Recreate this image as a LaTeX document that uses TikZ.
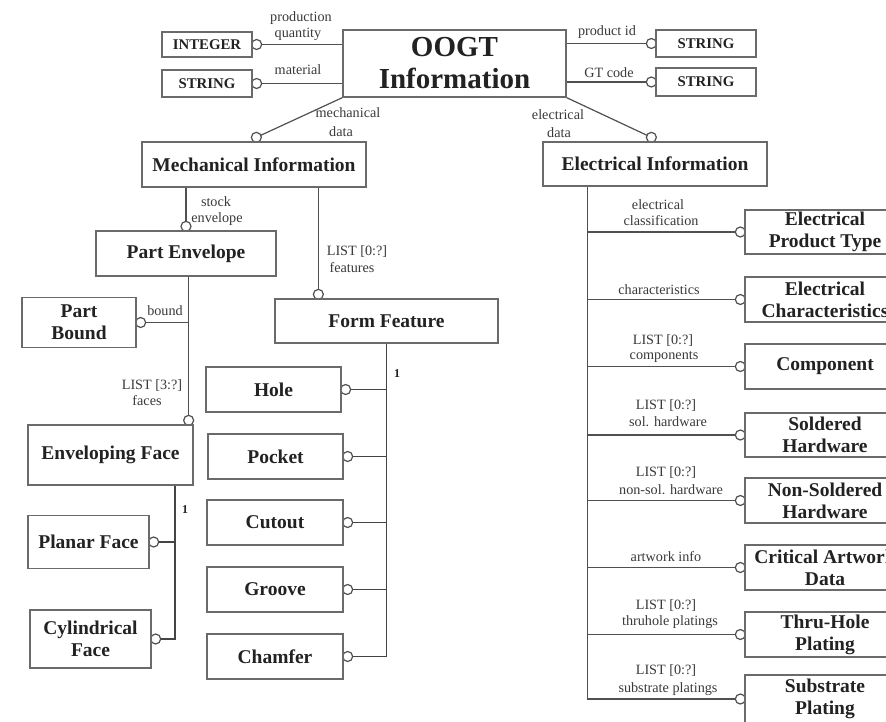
\documentclass[tikz,border=0pt]{standalone}
\usepackage{fontspec}
\setmainfont{Liberation Serif}
\usetikzlibrary{calc,backgrounds}
\definecolor{edgecol}{HTML}{6A6A6A}
\definecolor{wirecol}{HTML}{505050}
\definecolor{textcol}{HTML}{222222}
\definecolor{labelcol}{HTML}{3A3A3A}
\tikzset{
  entity/.style={draw=edgecol, line width=1.3pt, fill=white, text=textcol, align=center,
    inner sep=0pt, font=\bfseries\fontsize{19.5}{22}\selectfont},
  smallentity/.style={entity, font=\bfseries\fontsize{14.8}{17}\selectfont},
  rolelabel/.style={text=labelcol, font=\fontsize{14.2}{16}\selectfont, inner sep=0pt, anchor=mid},
  cardlabel/.style={text=textcol, font=\bfseries\fontsize{12}{14}\selectfont, inner sep=0pt, anchor=mid},
  wire/.style={draw=wirecol, line width=1.2pt},
  trunk/.style={draw=wirecol!85!black, line width=1.8pt},
  ring/.style={draw=wirecol, line width=1.2pt, fill=white},
}
\begin{document}
\begin{tikzpicture}[x=1pt, y=-1pt]
\useasboundingbox (0,0) rectangle (886,722);

% ---- top level entity and its simple attributes
\node[entity, minimum width=223, minimum height=67,
      font=\bfseries\fontsize{29}{32}\selectfont] (oogt) at (454.5,63.5) {OOGT\\Information};
\node[smallentity, minimum width=90, minimum height=25] (intL) at (207,44.5) {INTEGER};
\node[smallentity, minimum width=90, minimum height=27] (strL) at (207,83.5) {STRING};
\node[smallentity, minimum width=100, minimum height=27] (strR1) at (706,43.5) {STRING};
\node[smallentity, minimum width=100, minimum height=28] (strR2) at (706,82) {STRING};

% ---- mechanical branch
\node[entity, minimum width=224, minimum height=45] (mech) at (254,164.5) {Mechanical Information};
\node[entity, minimum width=180, minimum height=45] (pe) at (186,253.5) {Part Envelope};
\node[entity, minimum width=114, minimum height=50] (pb) at (79,322.5) {Part\\Bound};
\node[entity, minimum width=165, minimum height=60] (ef) at (110.5,455) {Enveloping Face};
\node[entity, minimum width=121, minimum height=53] (pf) at (88.5,542) {Planar Face};
\node[entity, minimum width=121, minimum height=58] (cf) at (90.5,639) {Cylindrical\\Face};
\node[entity, minimum width=223, minimum height=44] (ff) at (386.5,321) {Form Feature};
\node[entity, minimum width=135, minimum height=45] (hole) at (273.5,389.5) {Hole};
\node[entity, minimum width=135, minimum height=45] (pocket) at (275.5,456.5) {Pocket};
\node[entity, minimum width=136, minimum height=45] (cutout) at (275,522.5) {Cutout};
\node[entity, minimum width=136, minimum height=45] (groove) at (275,589.5) {Groove};
\node[entity, minimum width=136, minimum height=45] (chamfer) at (275,656.5) {Chamfer};

% ---- electrical branch
\node[entity, minimum width=224, minimum height=44] (elec) at (655,164) {Electrical Information};
\node[entity, minimum width=160, minimum height=44] (ept) at (825,232) {Electrical\\Product Type};
\node[entity, minimum width=160, minimum height=45] (ech) at (825,299.5) {Electrical\\Characteristics};
\node[entity, minimum width=160, minimum height=45] (comp) at (825,366.5) {Component};
\node[entity, minimum width=160, minimum height=44] (solh) at (825,435) {Soldered\\Hardware};
\node[entity, minimum width=160, minimum height=45] (nsolh) at (825,500.5) {Non-Soldered\\Hardware};
\node[entity, minimum width=160, minimum height=45] (caw) at (825,567.5) {Critical Artwork\\Data};
\node[entity, minimum width=160, minimum height=45] (thp) at (825,634.5) {Thru-Hole\\Plating};
\node[entity, minimum width=160, minimum height=48] (subp) at (825,699) {Substrate\\Plating};

% ---- role names
\node[rolelabel] (lProd) at (301,19) {production};
\node[rolelabel] (lQty) at (298,35) {quantity};
\node[rolelabel] (lMat) at (298,72) {material};
\node[rolelabel] (lPid) at (607,33) {product id};
\node[rolelabel] (lGt) at (609,75) {GT code};
\node[rolelabel] (lMech1) at (348,115) {mechanical};
\node[rolelabel] (lMech2) at (341,134) {data};
\node[rolelabel] (lEl1) at (558,117) {electrical};
\node[rolelabel] (lEl2) at (559,135) {data};
\node[rolelabel] (lStock1) at (216,204) {stock};
\node[rolelabel] (lStock2) at (217,220) {envelope};
\node[rolelabel] (lFeat1) at (357,253) {LIST [0:?]};
\node[rolelabel] (lFeat2) at (352,270) {features};
\node[rolelabel] (lBound) at (165,313) {bound};
\node[rolelabel] (lFace1) at (152,387) {LIST [3:?]};
\node[rolelabel] (lFace2) at (147,403) {faces};
\node[cardlabel] (cEf) at (185,511) {1};
\node[cardlabel] (cFf) at (397,375) {1};
\node[rolelabel] (lCls1) at (658,207) {electrical};
\node[rolelabel] (lCls2) at (661,223) {classification};
\node[rolelabel] (lChar) at (659,292) {characteristics};
\node[rolelabel] (lComp1) at (663,342) {LIST [0:?]};
\node[rolelabel] (lComp2) at (664,357) {components};
\node[rolelabel] (lSol1) at (666,407) {LIST [0:?]};
\node[rolelabel] (lSol2) at (668,424) {sol. hardware};
\node[rolelabel] (lNsol1) at (666,474) {LIST [0:?]};
\node[rolelabel] (lNsol2) at (671,492) {non-sol. hardware};
\node[rolelabel] (lArt) at (666,559) {artwork info};
\node[rolelabel] (lTh1) at (666,607) {LIST [0:?]};
\node[rolelabel] (lTh2) at (670,623) {thruhole platings};
\node[rolelabel] (lSub1) at (666,672) {LIST [0:?]};
\node[rolelabel] (lSub2) at (668,690) {substrate platings};

% ---- connectors, kept under the boxes so each ring shows as a half circle
\begin{scope}[on background layer]
  \fill[white] (0,0) rectangle (886,722);

  % attributes of the top entity
  \draw[wire] (intL.east) -- (oogt.west |- intL.east);
  \draw[wire] (strL.east) -- (oogt.west |- strL.east);
  \draw[wire] (strR1.west) -- (oogt.east |- strR1.west);
  \draw[wire] (strR2.west) -- (oogt.east |- strR2.west);
  \draw[ring] ($(intL.east)+(4,0)$) circle[radius=5];
  \draw[ring] ($(strL.east)+(4,0)$) circle[radius=5];
  \draw[ring] ($(strR1.west)+(-4,0)$) circle[radius=5];
  \draw[ring] ($(strR2.west)+(-4,0)$) circle[radius=5];

  % mechanical and electrical data
  \coordinate (mechTop) at ($(mech.north west)+(115,-4)$);
  \coordinate (elecTop) at ($(elec.north west)+(109,-4)$);
  \draw[wire] (oogt.south west) -- (mechTop);
  \draw[wire] (oogt.south east) -- (elecTop);
  \draw[ring] (mechTop) circle[radius=5];
  \draw[ring] (elecTop) circle[radius=5];

  % stock envelope and features
  \coordinate (peTop) at ($(pe.north)+(0,-4)$);
  \coordinate (ffTop) at ($(ff.north west)+(44,-4)$);
  \draw[wire] (peTop |- mech.south) -- (peTop);
  \draw[wire] (ffTop |- mech.south) -- (ffTop);
  \draw[ring] (peTop) circle[radius=5];
  \draw[ring] (ffTop) circle[radius=5];

  % part envelope: faces and bound
  \coordinate (efTop) at ($(ef.north east)+(-5,-4)$);
  \draw[wire] (efTop |- pe.south) -- (efTop);
  \draw[wire] (pb.east) -- (pb.east -| efTop);
  \draw[ring] (efTop) circle[radius=5];
  \draw[ring] ($(pb.east)+(4,0)$) circle[radius=5];

  % enveloping face subtypes
  \coordinate (efTrunk) at ($(ef.south west)+(148,0)$);
  \draw[trunk] (efTrunk) -- (efTrunk |- cf.east) -- (cf.east);
  \draw[trunk] (efTrunk |- pf.east) -- (pf.east);
  \draw[ring] ($(pf.east)+(4,0)$) circle[radius=5];
  \draw[ring] ($(cf.east)+(4,0)$) circle[radius=5];

  % form feature subtypes
  \draw[trunk] (ff.south) -- (ff.south |- chamfer.east) -- (chamfer.east);
  \foreach \n in {hole,pocket,cutout,groove} {
    \draw[trunk] (ff.south |- \n.east) -- (\n.east);
  }
  \foreach \n in {hole,pocket,cutout,groove,chamfer} {
    \draw[ring] ($(\n.east)+(4,0)$) circle[radius=5];
  }

  % electrical attributes
  \coordinate (elTrunk) at ($(elec.south west)+(45,0)$);
  \draw[wire, line width=1.4pt] (elTrunk) -- (elTrunk |- subp.west) -- (subp.west);
  \foreach \n in {ept,ech,comp,solh,nsolh,caw,thp} {
    \draw[wire] (elTrunk |- \n.west) -- (\n.west);
  }
  \foreach \n in {ept,ech,comp,solh,nsolh,caw,thp,subp} {
    \draw[ring] ($(\n.west)+(-4,0)$) circle[radius=5];
  }
\end{scope}
\end{tikzpicture}
\end{document}
